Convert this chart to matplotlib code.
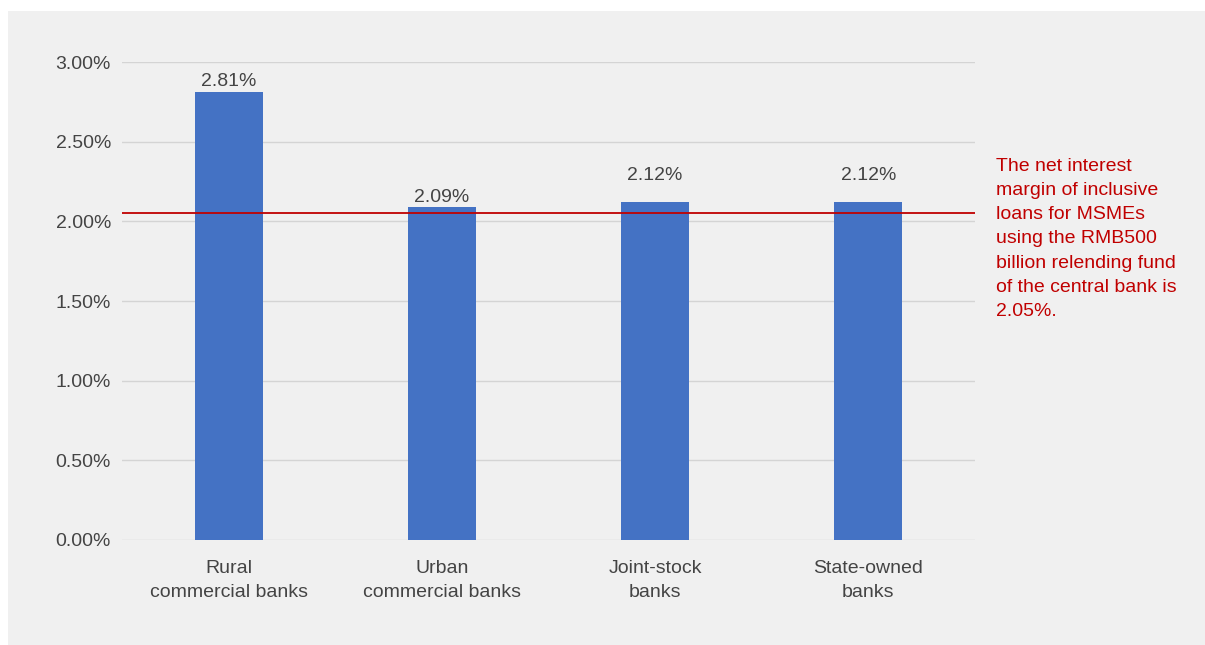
import matplotlib
matplotlib.use("Agg")
import matplotlib.pyplot as plt
from matplotlib.patches import Rectangle
from matplotlib.ticker import FuncFormatter, MultipleLocator

plt.rcParams["font.family"] = ["Liberation Sans", "DejaVu Sans"]

# Data
categories = ["Rural\ncommercial banks", "Urban\ncommercial banks",
              "Joint-stock\nbanks", "State-owned\nbanks"]
margins = [2.81, 2.09, 2.12, 2.12]
value_labels = ["2.81%", "2.09%", "2.12%", "2.12%"]
relending_margin = 2.05
note_text = ("The net interest\nmargin of inclusive\nloans for MSMEs\n"
             "using the RMB500\nbillion relending fund\nof the central bank is\n2.05%.")

BAR_COLOR = "#4472c4"
RED = "#c00000"
TEXT_GRAY = "#444444"
PANEL = "#f0f0f0"
FS = 14

W, H = 1205, 645
fig = plt.figure(figsize=(W / 100, H / 100), dpi=100)
fig.patch.set_facecolor("white")

# Light gray panel behind the chart
fig.patches.append(Rectangle((8 / W, 0), 1 - 8 / W, 1 - 11 / H,
                             transform=fig.transFigure, facecolor=PANEL,
                             edgecolor="none", zorder=-10))

ax = fig.add_axes([122 / W, 1 - 540 / H, (975 - 122) / W, (540 - 62) / H])
ax.set_facecolor("none")

x = list(range(len(categories)))
ax.bar(x, margins, width=0.32, color=BAR_COLOR, zorder=2)

ax.set_xlim(-0.5, len(categories) - 0.5)
ax.set_ylim(0, 3.0)
ax.yaxis.set_major_locator(MultipleLocator(0.5))
ax.yaxis.set_major_formatter(FuncFormatter(lambda v, _: f"{v:.2f}%"))
ax.grid(axis="y", color="#d4d4d4", linewidth=1.0, zorder=0)
ax.set_axisbelow(True)
for s in ax.spines.values():
    s.set_visible(False)
ax.tick_params(axis="y", length=0, pad=8, labelsize=FS, labelcolor=TEXT_GRAY)
ax.tick_params(axis="x", length=0, pad=14.5, labelsize=FS, labelcolor=TEXT_GRAY)
ax.set_xticks(x)
ax.set_xticklabels(categories, linespacing=1.5)

# Value labels above each bar
label_offsets = [8, 6.5, 19.5, 19.5]
for xi, v, lab, off in zip(x, margins, value_labels, label_offsets):
    ax.annotate(lab, (xi, v), xytext=(0, off), textcoords="offset points",
                ha="center", va="center", fontsize=FS, color=TEXT_GRAY)

# Reference line for the relending-fund margin
ax.axhline(relending_margin, color=RED, linewidth=1.3, zorder=3)

fig.text(996 / W, 1 - 158 / H, note_text, ha="left", va="top",
         fontsize=FS, color=RED, linespacing=1.55)

fig.savefig("out.png", dpi=100, facecolor=fig.get_facecolor())
